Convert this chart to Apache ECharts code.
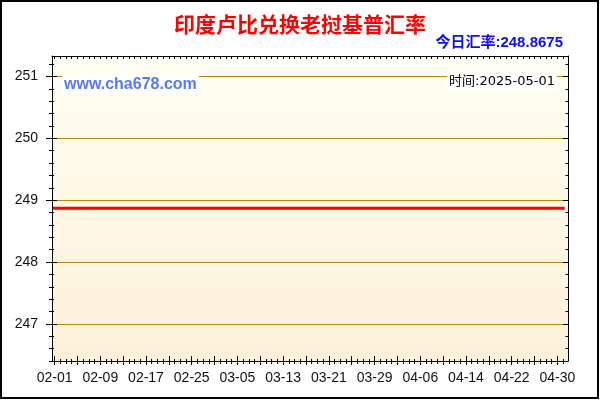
<!DOCTYPE html>
<html><head><meta charset="utf-8">
<script src="https://cdn.jsdelivr.net/npm/echarts@6/dist/echarts.min.js"></script>
<style>html,body{margin:0;padding:0;background:#fff}#c{width:600px;height:400px}</style>
</head><body><div id="c"></div>
<script>
// ---- data ----
const dates = ['2025-02-01','2025-02-09','2025-02-17','2025-02-25','2025-03-05','2025-03-13','2025-03-21','2025-03-29','2025-04-06','2025-04-14','2025-04-22','2025-04-30','2025-05-01'];
const rates = [248.8675,248.8675,248.8675,248.8675,248.8675,248.8675,248.8675,248.8675,248.8675,248.8675,248.8675,248.8675,248.8675];
const xTickLabels = ['02-01','02-09','02-17','02-25','03-05','03-13','03-21','03-29','04-06','04-14','04-22','04-30'];
const yTickLabels = [247,248,249,250,251];
const titleText = '印度卢比兑换老挝基普汇率';
const todayRate = '248.8675';
const stampDate = '2025-05-01';
const siteText = 'www.cha678.com';

// ---- axis helpers (x = days since 2025-02-01) ----
const DAY = 86400000;
const t0 = Date.UTC(2025,1,1);
function dayIndex(s) { const p = s.split('-').map(Number); return Math.round((Date.UTC(p[0],p[1]-1,p[2]) - t0)/DAY); }
function dayLabel(v) { const d = new Date(t0 + Math.round(v)*DAY); const m = d.getUTCMonth()+1, dd = d.getUTCDate(); return (m<10?'0':'')+m+'-'+(dd<10?'0':'')+dd; }
const xMin = -0.45, xMax = 89.85;
const dailyTicks = [], majorTicks = [];
for (let i = 0; i <= 89; i++) { dailyTicks.push(i); if (i % 4 === 0) majorTicks.push(i); }
const labelPos = xTickLabels.map(s => dayIndex('2025-' + s));
const yMin = 246.4, yMax = 251.33;
const yMinor = [];
for (let i = 0; i <= 24; i++) yMinor.push(Math.round((246.4 + 0.2*i)*10)/10);
const black = {color:'#000', width:1};

function xa(pos, tick, label, line) {
  return {type:'value', min:xMin, max:xMax, gridIndex:0, position:pos, z:5,
    axisLine:{show:!!line, onZero:false, lineStyle:black},
    axisTick:Object.assign({show:true, lineStyle:black}, tick),
    axisLabel:label || {show:false},
    splitLine:{show:false}};
}
function ya(pos, tick, label, line) {
  return {type:'value', min:yMin, max:yMax, gridIndex:0, position:pos, z:5,
    axisLine:{show:!!line, onZero:false, lineStyle:black},
    axisTick:Object.assign({show:true, lineStyle:black}, tick),
    axisLabel:label || {show:false},
    splitLine:{show:false}};
}
const labelFont = {fontSize:14, color:'#111', fontFamily:'"Liberation Sans", Arial, sans-serif'};

const chart = echarts.init(document.getElementById('c'));
chart.setOption({
  animation:false,
  grid:{left:52, top:56, width:516, height:305, show:true, borderWidth:0,
    backgroundColor:new echarts.graphic.LinearGradient(0,0,0,1,[{offset:0,color:'#FFFEF3'},{offset:1,color:'#FDF1D8'}])},
  xAxis:[
    xa('bottom', {inside:false, length:3, customValues:dailyTicks},
      Object.assign({show:true, customValues:labelPos, margin:10, formatter:v => dayLabel(v)}, labelFont), true),
    xa('bottom', {inside:true, length:2, customValues:dailyTicks}),
    xa('bottom', {inside:false, length:4, customValues:majorTicks}),
    xa('bottom', {inside:true, length:5, customValues:majorTicks}),
    xa('top', {inside:true, length:3, customValues:dailyTicks}, null, true)
  ],
  yAxis:[
    ya('left', {inside:false, length:3, customValues:yMinor},
      Object.assign({show:true, customValues:yTickLabels, margin:14}, labelFont), true),
    ya('left', {inside:true, length:2, customValues:yMinor}),
    ya('left', {inside:false, length:6, customValues:yTickLabels}),
    ya('left', {inside:true, length:5, customValues:yTickLabels}),
    ya('right', {inside:true, length:2.5, customValues:yMinor}, null, true),
    ya('right', {inside:true, length:5, customValues:yTickLabels})
  ],
  series:[{
    type:'line', xAxisIndex:0, yAxisIndex:0, z:2,
    data:dates.map((d,i) => [dayIndex(d), rates[i]]),
    showSymbol:false, symbol:'none',
    lineStyle:{color:'#FF0000', width:3, cap:'square'},
    emphasis:{disabled:true},
    markLine:{silent:true, symbol:'none', animation:false,
      label:{show:false}, emphasis:{disabled:true},
      lineStyle:{color:'#B8860B', width:1, type:'solid'},
      data:yTickLabels.map(v => ({yAxis:v}))}
  }],
  graphic:[
    {type:'text', z:100, style:{text:titleText, x:300, y:24, align:'center', verticalAlign:'middle',
      font:'bold 21px "Noto Sans CJK SC", sans-serif', fill:'#FF0000'}},
    {type:'text', z:100, style:{text:'今日汇率:' + todayRate, x:563, y:42.5, align:'right', verticalAlign:'middle',
      font:'bold 15px "Liberation Sans", "Noto Sans CJK SC", sans-serif', fill:'#0A0AFF'}},
    {type:'text', z:100, style:{text:siteText, x:62, y:85, align:'left', verticalAlign:'middle',
      font:'bold 16px "Liberation Sans", Arial, sans-serif', fill:'#5577FF', backgroundColor:'#FFFFFF', padding:[2,2]}},
    {type:'text', z:100, style:{text:'时间:' + stampDate, x:557, y:82, align:'right', verticalAlign:'middle',
      font:'13px "DejaVu Sans", "Noto Sans CJK SC", sans-serif', fill:'#000', backgroundColor:'#FFFFFF', padding:[1,2]}},
    {type:'rect', z:100, shape:{x:1, y:1, width:597, height:397}, style:{fill:'none', stroke:'#000', lineWidth:2}}
  ]
});
</script></body></html>
